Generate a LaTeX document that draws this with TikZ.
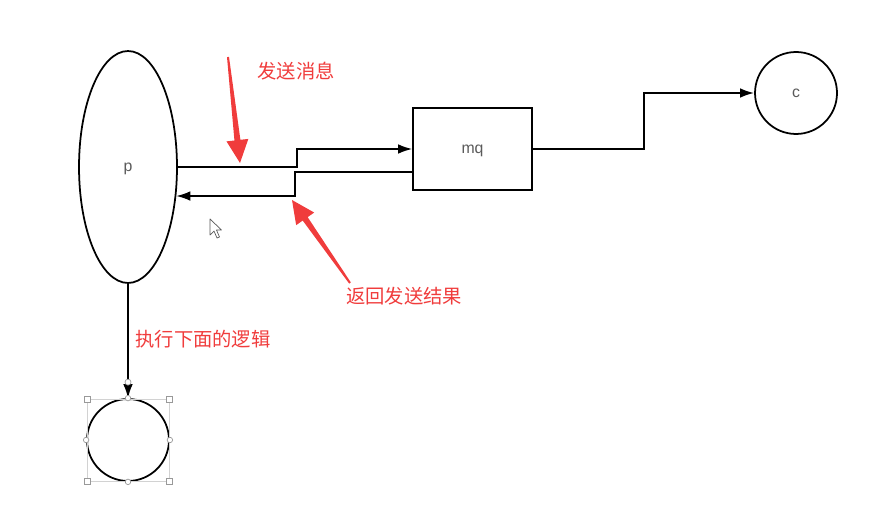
\documentclass[tikz,border=0pt]{standalone}
\usepackage{fontspec}
\setsansfont{Liberation Sans}
\newfontfamily\cjk{Noto Sans CJK SC}
\usetikzlibrary{arrows.meta,positioning,calc,shapes.geometric}
\definecolor{notered}{RGB}{240,60,60}
\definecolor{labelgray}{RGB}{90,90,90}

\tikzset{
  shapebox/.style={draw=black, line width=1pt, font=\sffamily\small, text=labelgray, text depth=0pt},
  conn/.style={line width=0.9pt, -{Latex[length=8pt,width=5.5pt]}},
  note/.style={font=\cjk\fontsize{11}{13}\selectfont, text=notered},
  handle/.style={draw=gray!80, fill=white, line width=0.4pt}
}

% red call-out arrow from tail #1 to tip #2
\newcommand\calloutarrow[2]{%
  \coordinate (hb) at ($(#2)!0.46cm!(#1)$);
  \fill[notered] ($(#1)!0.02cm!90:(#2)$) -- ($(hb)!0.06cm!90:(#2)$) -- ($(hb)!0.22cm!90:(#2)$)
    -- (#2) -- ($(hb)!0.22cm!-90:(#2)$) -- ($(hb)!0.06cm!-90:(#2)$) -- ($(#1)!0.02cm!-90:(#2)$) -- cycle;
}

\begin{document}
\begin{tikzpicture}[x=0.02cm,y=-0.02cm]
  \useasboundingbox (0,0) rectangle (874,506);

  %% Shapes
  \node[shapebox, ellipse, minimum width=1.96cm, minimum height=4.64cm] (p) at (128,167) {p};
  \node[shapebox, rectangle, minimum width=2.38cm, minimum height=1.64cm] (mq) at (472.5,149) {mq};
  \node[shapebox, circle, minimum size=1.64cm] (c) at (796,93) {c};
  \node[shapebox, circle, minimum size=1.64cm] (logic) at (128,440) {};

  %% Connectors
  \draw[conn] (p.east) -- ++(119,0) |- (mq.west);
  \draw[conn] ($(mq.west)+(0,23)$) -- ++(-117,0) |- (p.-31);
  \draw[conn, line width=1.1pt] (mq.east) -- ++(111,0) |- (c.west);
  \draw[conn] (p.south) -- (logic.north);

  %% Selection handles
  \draw[gray!35, line width=0.3pt] ($(logic.center)+(-41,-41)$) rectangle ($(logic.center)+(41,41)$);
  \foreach \dx/\dy in {-41/-41, 41/-41, -41/41, 41/41}
    \filldraw[handle] ($(logic.center)+(\dx,\dy)+(-3,-3)$) rectangle ++(6,6);
  \foreach \a in {north, south, east, west}
    \filldraw[handle] (logic.\a) circle (0.055cm);
  \filldraw[handle] ($(logic.north)+(0,-16)$) circle (0.06cm);

  %% Call-outs
  \coordinate (sendtail) at (228,57);
  \coordinate (sendtip) at (240,163);
  \coordinate (backtail) at (350,283);
  \coordinate (backtip) at (292,200);
  \calloutarrow{sendtail}{sendtip}
  \calloutarrow{backtail}{backtip}

  \node[note] (sendlbl) at (296,71) {发送消息};
  \node[note] (backlbl) at (404,296) {返回发送结果};
  \node[note] (logiclbl) at (203,339) {执行下面的逻辑};

  %% Mouse pointer
  \filldraw[fill=white, draw=gray!70!black, line width=0.4pt, line join=round]
    (210,219) -- (210,235) -- (214,231) -- (217,238) -- (219.5,237) -- (216.5,230) -- (221.5,230) -- cycle;
\end{tikzpicture}
\end{document}
